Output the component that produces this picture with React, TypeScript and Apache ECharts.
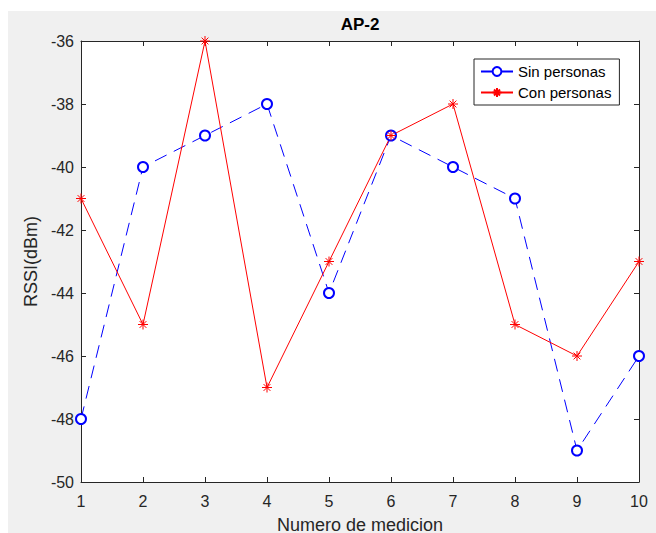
import React, { useEffect, useRef } from "react";
import * as echarts from "echarts";

const measurements = [1, 2, 3, 4, 5, 6, 7, 8, 9, 10];
const sinPersonas = [-48, -40, -39, -38, -44, -39, -40, -41, -49, -46];
const conPersonas = [-41, -45, -36, -47, -43, -39, -38, -45, -46, -43];
const seriesNames = ["Sin personas", "Con personas"];
const yRange = [-50, -36];
const yStep = 2;
const xRange = [1, 10];
const xStep = 1;

const FONT = "'Liberation Sans', Arial, Helvetica, sans-serif";
const AXIS_COLOR = "#262626";
const ASTERISK =
  "path://M5,0L5,10M0,5L10,5M1.6,1.6L8.4,8.4M1.6,8.4L8.4,1.6";

export default function App() {
  const ref = useRef<HTMLDivElement>(null);

  useEffect(() => {
    if (!ref.current) return;
    const chart = echarts.init(ref.current, undefined, { renderer: "svg" });
    const tickStyle = { show: true, inside: true, length: 5, lineStyle: { color: AXIS_COLOR, width: 1 } };
    const lineStyleAxis = { show: true, onZero: false, lineStyle: { color: AXIS_COLOR, width: 1 } };
    const xBase = {
      type: "value" as const,
      min: xRange[0],
      max: xRange[1],
      interval: xStep,
      splitLine: { show: false },
      axisLine: lineStyleAxis,
      axisTick: tickStyle,
    };
    const yBase = {
      type: "value" as const,
      min: yRange[0],
      max: yRange[1],
      interval: yStep,
      splitLine: { show: false },
      axisLine: lineStyleAxis,
      axisTick: tickStyle,
    };
    chart.setOption({
      animation: false,
      backgroundColor: "#f0f0f0",
      title: {
        text: "AP-2",
        left: 352,
        textAlign: "center",
        top: 5,
        padding: 0,
        textStyle: { fontFamily: FONT, fontSize: 17, fontWeight: "bold", color: "#000" },
      },
      grid: {
        left: 73,
        right: 17,
        top: 30,
        bottom: 51,
        show: true,
        backgroundColor: "#ffffff",
        borderWidth: 0,
        containLabel: false,
        outerBoundsMode: "none",
      },
      legend: {
        orient: "vertical",
        left: 466,
        top: 48,
        backgroundColor: "#ffffff",
        borderColor: AXIS_COLOR,
        borderWidth: 1,
        borderRadius: 0,
        padding: [5, 8, 5, 6],
        itemWidth: 32,
        itemHeight: 11,
        itemGap: 6,
        textStyle: { fontFamily: FONT, fontSize: 15, color: "#000" },
        data: seriesNames,
      },
      xAxis: [
        {
          ...xBase,
          position: "bottom",
          name: "Numero de medicion",
          nameLocation: "middle",
          nameGap: 34,
          nameTextStyle: { fontFamily: FONT, fontSize: 18, color: AXIS_COLOR },
          axisLabel: { fontFamily: FONT, fontSize: 16, color: AXIS_COLOR, margin: 11 },
        },
        { ...xBase, position: "top", axisLabel: { show: false } },
      ],
      yAxis: [
        {
          ...yBase,
          position: "left",
          name: "RSSI(dBm)",
          nameLocation: "middle",
          nameGap: 40,
          nameTextStyle: { fontFamily: FONT, fontSize: 18, color: AXIS_COLOR },
          axisLabel: { fontFamily: FONT, fontSize: 16, color: AXIS_COLOR, margin: 7 },
        },
        { ...yBase, position: "right", axisLabel: { show: false } },
      ],
      series: [
        {
          name: seriesNames[0],
          type: "line",
          clip: false,
          data: measurements.map((m, i) => [m, sinPersonas[i]]),
          symbol: "emptyCircle",
          symbolSize: 10,
          lineStyle: { color: "#0000ff", width: 1, type: [13, 8] },
          itemStyle: { color: "#0000ff", borderColor: "#0000ff", borderWidth: 1 },
        },
        {
          name: seriesNames[1],
          type: "line",
          clip: false,
          data: measurements.map((m, i) => [m, conPersonas[i]]),
          symbol: ASTERISK,
          symbolSize: 10,
          lineStyle: { color: "#ff0000", width: 1, type: "solid" },
          itemStyle: { color: "#ff0000", borderColor: "#ff0000", borderWidth: 1 },
        },
      ],
    });
    return () => chart.dispose();
  }, []);

  return (
    <div style={{ position: "fixed", left: 0, top: 0, width: 656, height: 533, background: "#ffffff", overflow: "hidden" }}>
      <div
        ref={ref}
        style={{ position: "absolute", left: 8, top: 11, width: 648, height: 522 }}
      />
    </div>
  );
}
